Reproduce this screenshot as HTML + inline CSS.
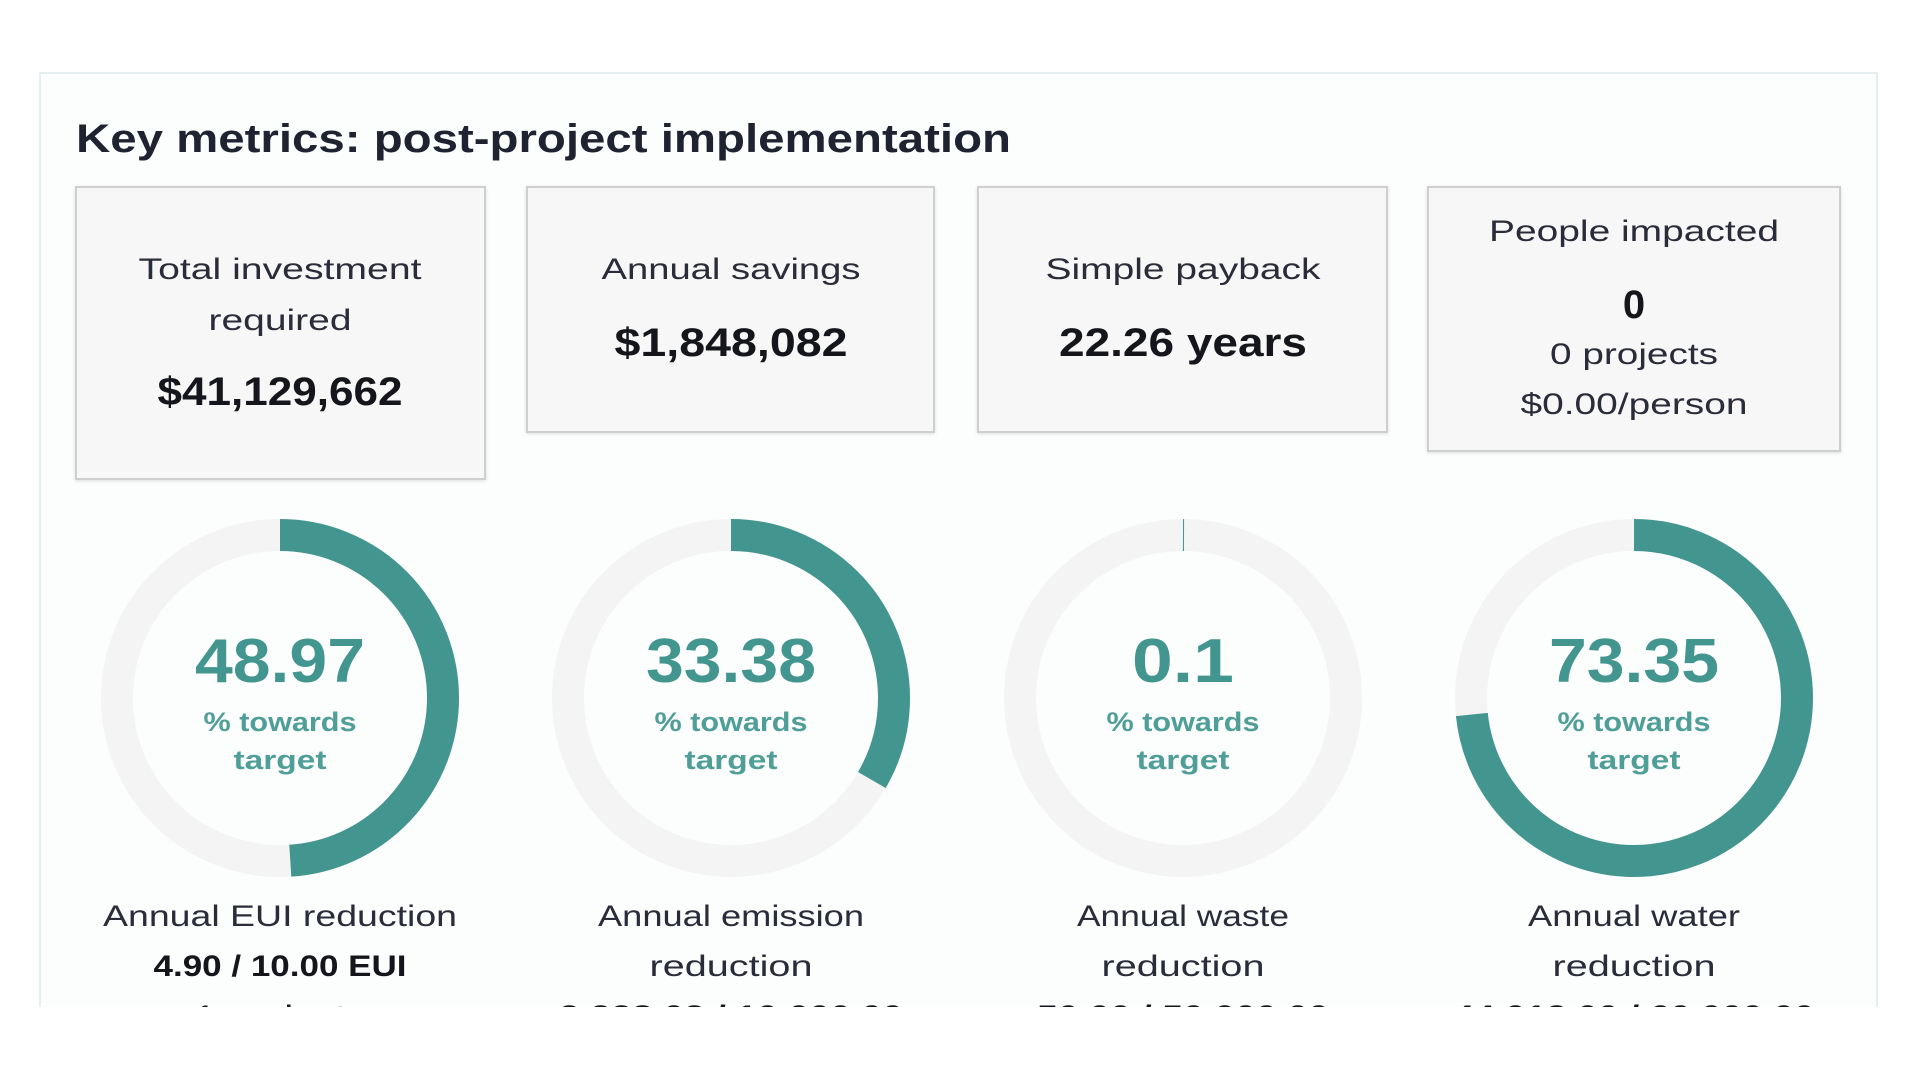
<!DOCTYPE html>
<html><head><meta charset="utf-8"><style>
html,body{margin:0;padding:0;background:#fff;}
svg{display:block;font-family:"Liberation Sans",sans-serif;}
</style></head><body>
<svg width="1920" height="1080" viewBox="0 0 1920 1080">
<defs>
<clipPath id="clip"><rect x="0" y="0" width="1920" height="1007"/></clipPath>
<filter id="sh" x="-5%" y="-5%" width="110%" height="115%"><feDropShadow dx="0" dy="1" stdDeviation="1.5" flood-color="#000" flood-opacity="0.12"/></filter>
</defs>
<g clip-path="url(#clip)">
<rect x="40" y="73" width="1837" height="1000" fill="#fcfdfd" stroke="#e6eff0" stroke-width="2"/>
<text x="76" y="152" font-size="40" font-weight="bold" fill="#1f2230" textLength="935" lengthAdjust="spacingAndGlyphs">Key metrics: post-project implementation</text>

<g>
<rect x="76" y="187" width="409" height="292" fill="#f7f7f7" stroke="#cfcfcf" stroke-width="2" filter="url(#sh)"/>
<text x="280" y="279" font-size="30" fill="#2a2c3a" text-anchor="middle" textLength="283" lengthAdjust="spacingAndGlyphs">Total investment</text>
<text x="280" y="330" font-size="30" fill="#2a2c3a" text-anchor="middle" textLength="143" lengthAdjust="spacingAndGlyphs">required</text>
<text x="280" y="405" font-size="40" font-weight="bold" fill="#15161c" text-anchor="middle" textLength="245" lengthAdjust="spacingAndGlyphs">$41,129,662</text>
</g>
<g>
<rect x="527" y="187" width="407" height="245" fill="#f7f7f7" stroke="#cfcfcf" stroke-width="2" filter="url(#sh)"/>
<text x="731" y="279" font-size="30" fill="#2a2c3a" text-anchor="middle" textLength="259" lengthAdjust="spacingAndGlyphs">Annual savings</text>
<text x="731" y="356" font-size="40" font-weight="bold" fill="#15161c" text-anchor="middle" textLength="233" lengthAdjust="spacingAndGlyphs">$1,848,082</text>
</g>
<g>
<rect x="978" y="187" width="409" height="245" fill="#f7f7f7" stroke="#cfcfcf" stroke-width="2" filter="url(#sh)"/>
<text x="1183" y="279" font-size="30" fill="#2a2c3a" text-anchor="middle" textLength="275" lengthAdjust="spacingAndGlyphs">Simple payback</text>
<text x="1183" y="356" font-size="40" font-weight="bold" fill="#15161c" text-anchor="middle" textLength="248" lengthAdjust="spacingAndGlyphs">22.26 years</text>
</g>
<g>
<rect x="1428" y="187" width="412" height="264" fill="#f7f7f7" stroke="#cfcfcf" stroke-width="2" filter="url(#sh)"/>
<text x="1634" y="241" font-size="30" fill="#2a2c3a" text-anchor="middle" textLength="290" lengthAdjust="spacingAndGlyphs">People impacted</text>
<text x="1634" y="318" font-size="40" font-weight="bold" fill="#15161c" text-anchor="middle">0</text>
<text x="1634" y="364" font-size="30" fill="#2a2c3a" text-anchor="middle" textLength="168" lengthAdjust="spacingAndGlyphs">0 projects</text>
<text x="1634" y="414" font-size="30" fill="#2a2c3a" text-anchor="middle" textLength="227" lengthAdjust="spacingAndGlyphs">$0.00/person</text>
</g>
<g id="donuts"></g>
</g>
</svg>
<script>
const values = [48.97, 33.38, 0.1, 73.35];
const valueLabels = ["48.97", "33.38", "0.1", "73.35"];
const titles1 = ["Annual EUI reduction", "Annual emission", "Annual waste", "Annual water"];
const titles2 = ["4.90 / 10.00 EUI", "reduction", "reduction", "reduction"];
const titles3 = ["1 projects", "3,338.03 / 10,000.00", "50.00 / 50,000.00", "44,013.00 / 60,000.00"];
const NS = "http://www.w3.org/2000/svg";
const cxs = [280, 731, 1183, 1634];
const cy = 698, r = 163, sw = 32;
const circ = 2 * Math.PI * r;
const g = document.getElementById('donuts');
function mk(tag, attrs, txt){const e=document.createElementNS(NS,tag);for(const k in attrs)e.setAttribute(k,attrs[k]);if(txt!==undefined)e.textContent=txt;return e;}
function fit(e, perChar){ e.setAttribute('textLength', Math.round(e.textContent.length*perChar)); e.setAttribute('lengthAdjust','spacingAndGlyphs'); }
values.forEach((v,i)=>{
  const cx = cxs[i];
  const grp = mk('g',{});
  
  
  const track = mk('circle',{cx:cx,cy:cy,r:r,fill:'none',stroke:'#f4f4f4','stroke-width':sw});
  
  
  grp.appendChild(track);
  const len = circ * Math.max(0, Math.min(100, v)) / 100;
  const arc = mk('circle',{cx:cx,cy:cy,r:r,fill:'none',stroke:'#43958f','stroke-width':sw,
    'stroke-dasharray':len+' '+circ,transform:'rotate(-90 '+cx+' '+cy+')'});
  
  
  grp.appendChild(arc);
  const num = mk('text',{x:cx,y:cy-16,'font-size':62,'font-weight':'bold',fill:'#43958f','text-anchor':'middle'},valueLabels[i]);
  
  
  fit(num, 34);
  grp.appendChild(num);
  const t1 = mk('text',{x:cx,y:cy+33,'font-size':27,'font-weight':'bold',fill:'#4f9e98','text-anchor':'middle',textLength:153,lengthAdjust:'spacingAndGlyphs'},'% towards');
  
  
  grp.appendChild(t1);
  const t2 = mk('text',{x:cx,y:cy+71,'font-size':27,'font-weight':'bold',fill:'#4f9e98','text-anchor':'middle',textLength:93,lengthAdjust:'spacingAndGlyphs'},'target');
  
  
  grp.appendChild(t2);
  const l1 = mk('text',{x:cx,y:926,'font-size':30,fill:'#2a2c3a','text-anchor':'middle'},titles1[i]);
  
  
  fit(l1, 17.7);
  grp.appendChild(l1);
  const l2 = mk('text',{x:cx,y:976,'font-size':30,'font-weight':i===0?'bold':'normal',fill:i===0?'#15161c':'#2a2c3a','text-anchor':'middle'},titles2[i]);
  
  
  fit(l2, i===0?15.8:18.1);
  grp.appendChild(l2);
  const l3 = mk('text',{x:cx,y:1026,'font-size':30,'font-weight':i===0?'normal':'bold',fill:'#15161c','text-anchor':'middle'},titles3[i]);
  
  
  fit(l3, 17.2);
  grp.appendChild(l3);
  g.appendChild(grp);
});
</script>
</body></html>
